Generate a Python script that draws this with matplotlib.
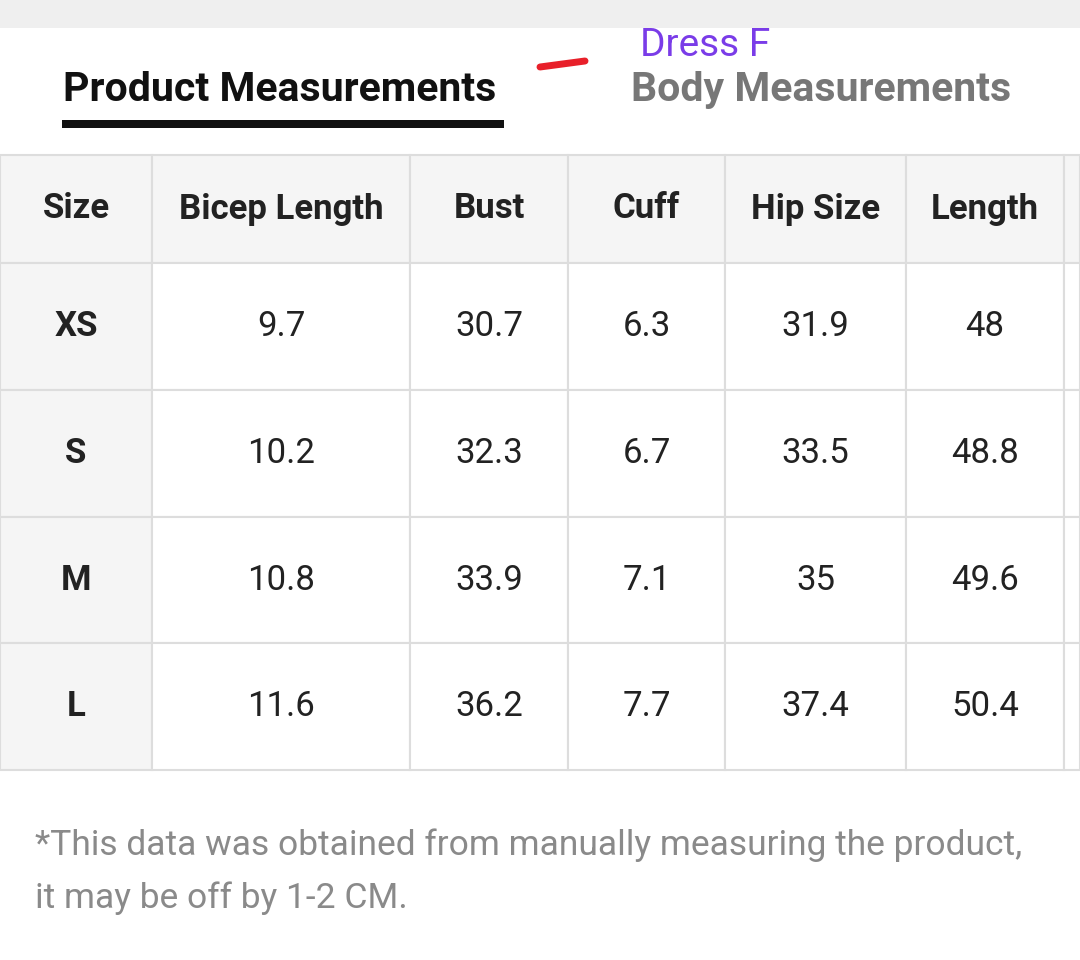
import matplotlib
matplotlib.use("Agg")
from matplotlib import pyplot
from matplotlib.patches import Rectangle

pyplot.rcParams["font.family"] = ["Roboto", "DejaVu Sans"]

columns = ["Size", "Bicep Length", "Bust", "Cuff", "Hip Size", "Length"]
sizes = ["XS", "S", "M", "L"]
bicep = ["9.7", "10.2", "10.8", "11.6"]
bust = ["30.7", "32.3", "33.9", "36.2"]
cuff = ["6.3", "6.7", "7.1", "7.7"]
hip = ["31.9", "33.5", "35", "37.4"]
length = ["48", "48.8", "49.6", "50.4"]

col_edges = [0, 152, 410, 568, 725, 906, 1064, 1080]
row_edges = [155, 263, 390, 517, 643, 770]

fig = pyplot.figure(figsize=(10.8, 9.6), dpi=100)
ax = fig.add_axes([0, 0, 1, 1])
ax.set_xlim(0, 1080)
ax.set_ylim(960, 0)
ax.axis("off")

# top strip
ax.add_patch(Rectangle((0, 0), 1080, 28, color="#efefef", lw=0))

# tabs
ax.text(63, 90, "Product Measurements", fontsize=29.5, fontweight="bold",
        color="#111111", va="center", ha="left")
ax.add_patch(Rectangle((62, 120), 442, 8, color="#111111", lw=0))
ax.plot([540, 585], [67, 61], color="#e8202a", lw=5, solid_capstyle="round")
ax.text(640, 46, "Dress F", fontsize=28, color="#7a3ce8", va="center", ha="left")
ax.text(631, 90, "Body Measurements", fontsize=29.5, fontweight="bold",
        color="#777777", va="center", ha="left")

# table
body = [sizes, bicep, bust, cuff, hip, length]
header_bg = "#f5f5f5"
line_c = "#dddddd"
for r in range(len(row_edges) - 1):
    y0, y1 = row_edges[r], row_edges[r + 1]
    for c in range(len(col_edges) - 1):
        x0, x1 = col_edges[c], col_edges[c + 1]
        bg = header_bg if (r == 0 or c == 0) else "white"
        ax.add_patch(Rectangle((x0, y0), x1 - x0, y1 - y0, facecolor=bg,
                               edgecolor=line_c, lw=1.5))
        if c >= len(columns):
            continue
        xc, yc = (x0 + x1) / 2, (y0 + y1) / 2
        if r == 0:
            ax.text(xc, yc, columns[c], fontsize=25, fontweight="bold",
                    color="#222222", ha="center", va="center")
        else:
            ax.text(xc, yc, body[c][r - 1], fontsize=25,
                    fontweight="bold" if c == 0 else "normal",
                    color="#222222", ha="center", va="center")

# footer
ax.text(35, 845, "*This data was obtained from manually measuring the product,",
        fontsize=25.5, color="#8a8a8a", ha="left", va="center")
ax.text(35, 898, "it may be off by 1-2 CM.", fontsize=25.5, color="#8a8a8a",
        ha="left", va="center")

pyplot.savefig("out.png", dpi=100)
pyplot.close()
